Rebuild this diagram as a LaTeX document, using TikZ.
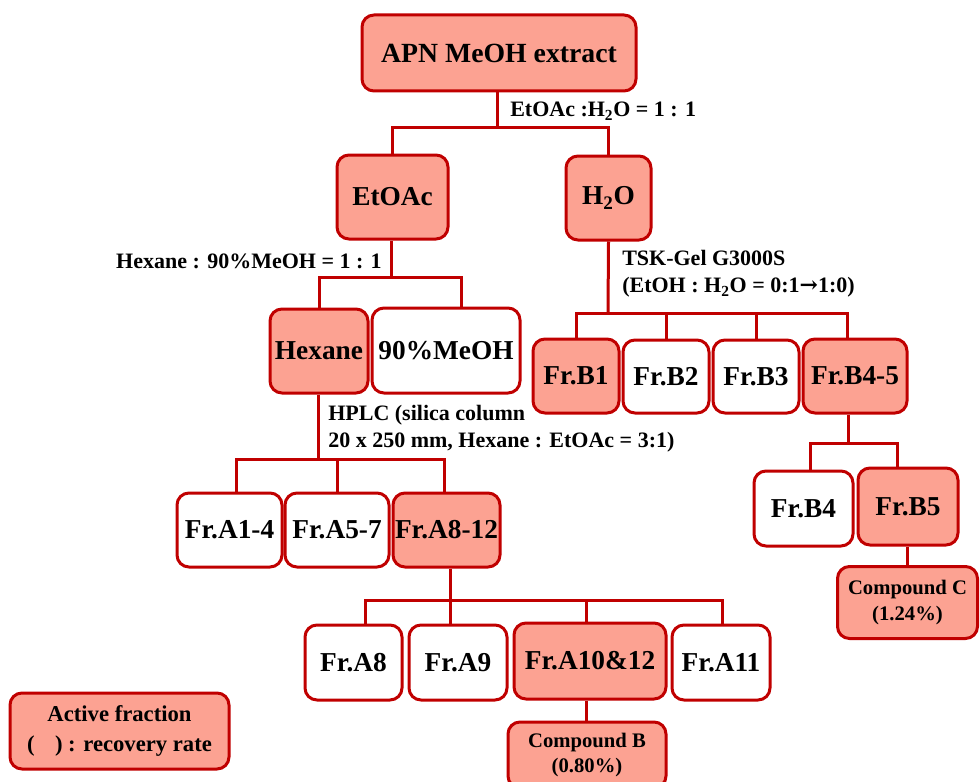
\documentclass[tikz,border=0pt]{standalone}
\usepackage{fontspec}
\setmainfont{Liberation Serif}
\newfontfamily\arrowfont{DejaVu Serif}
\definecolor{frame}{RGB}{192,0,0}
\definecolor{active}{RGB}{252,162,146}
\begin{document}
\begin{tikzpicture}[x=0.75pt,y=-0.75pt,
  box/.style={draw=frame, line width=2.25pt, rounded corners=9pt, fill=white,
    inner sep=0pt, align=center, font=\bfseries\fontsize{20.5}{24}\selectfont},
  hit/.style={box, fill=active},
  small/.style={font=\bfseries\fontsize{15.5}{19}\selectfont},
  link/.style={draw=frame, line width=2.25pt},
  note/.style={anchor=west, inner sep=0pt, align=left, font=\bfseries\fontsize{16.5}{20}\selectfont}]
\useasboundingbox (0,0) rectangle (980,781);

% ---- boxes ----
\node[hit, minimum width=0.75*274pt, minimum height=0.75*76pt, font=\bfseries\fontsize{20.8}{24}\selectfont] (apn) at (499,53) {APN MeOH extract};
\node[hit, minimum width=0.75*111pt, minimum height=0.75*84pt] (etoac) at (392.5,197) {EtOAc};
\node[hit, minimum width=0.75*85pt, minimum height=0.75*84pt] (h2o) at (608.5,198) {H\textsubscript{2}O};
\node[hit, minimum width=0.75*98pt, minimum height=0.75*84pt] (hex) at (319,351) {Hexane};
\node[box, minimum width=0.75*148pt, minimum height=0.75*85pt] (meoh) at (446,350.5) {90\%MeOH};

\node[hit, minimum width=0.75*86pt, minimum height=0.75*74pt] (b1) at (576,376) {Fr.B1};
\node[box, minimum width=0.75*86pt, minimum height=0.75*73pt] (b2) at (666,376.5) {Fr.B2};
\node[box, minimum width=0.75*86pt, minimum height=0.75*73pt] (b3) at (756,376.5) {Fr.B3};
\node[hit, minimum width=0.75*104pt, minimum height=0.75*74pt] (b45) at (855,376) {Fr.B4-5};
\node[box, minimum width=0.75*99pt, minimum height=0.75*75pt] (b4) at (803.5,508.5) {Fr.B4};
\node[hit, minimum width=0.75*100pt, minimum height=0.75*77pt] (b5) at (908,506.5) {Fr.B5};
\node[hit, small, minimum width=0.75*140pt, minimum height=0.75*72pt] (cc) at (907.5,602.5) {Compound C\\(1.24\%)};

\node[box, minimum width=0.75*105pt, minimum height=0.75*74pt] (a14) at (229.5,530) {Fr.A1-4};
\node[box, minimum width=0.75*104pt, minimum height=0.75*74pt] (a57) at (337,530) {Fr.A5-7};
\node[hit, minimum width=0.75*107pt, minimum height=0.75*74pt] (a812) at (446.5,530) {Fr.A8-12};

\node[box, minimum width=0.75*97pt, minimum height=0.75*75pt] (a8) at (353.5,662.5) {Fr.A8};
\node[box, minimum width=0.75*98pt, minimum height=0.75*75pt] (a9) at (458,662.5) {Fr.A9};
\node[hit, minimum width=0.75*152pt, minimum height=0.75*76pt] (a1012) at (590,661) {Fr.A10\&12};
\node[box, minimum width=0.75*98pt, minimum height=0.75*75pt] (a11) at (721,662.5) {Fr.A11};
\node[hit, small, minimum width=0.75*158pt, minimum height=0.75*66pt] (cb) at (587,755) {Compound B\\(0.80\%)};

\node[hit, minimum width=0.75*219pt, minimum height=0.75*76pt, font=\bfseries\fontsize{17}{22}\selectfont] (key) at (119.5,731) {Active fraction\\(\hspace{0.9em}) : recovery rate};

% ---- junction points on the branch bars ----
\coordinate (j1) at (497,128);
\coordinate (j2) at (391,277);
\coordinate (j2r) at (461,277);
\coordinate (j3) at (608,313);
\coordinate (j3b4) at (847,313);
\coordinate (j4) at (318,459);
\coordinate (j4a) at (236,459);
\coordinate (j4c) at (444,459);
\coordinate (j5) at (450,600);
\coordinate (j5a) at (365,600);
\coordinate (j5d) at (722,600);
\coordinate (j6) at (848,443);
\coordinate (j6a) at (810,443);
\coordinate (j6b) at (897,443);

% ---- connectors ----
\draw[link] (apn.south -| j1) -- (j1);
\draw[link] (etoac.north) |- (j1) -| (h2o.north);

\draw[link] (etoac.south -| j2) -- (j2);
\draw[link] (hex.north) |- (j2r) -- (j2r |- meoh.north);

\draw[link] (h2o.south) -- (j3);
\draw[link] (b1.north) |- (j3b4) -- (j3b4 |- b45.north);
\draw[link] (b2.north) -- (b2.north |- j3);
\draw[link] (b3.north) -- (b3.north |- j3);

\draw[link] (b45.south -| j6) -- (j6);
\draw[link] (j6a |- b4.north) |- (j6b) -- (j6b |- b5.north);
\draw[link] (b5.south -| cc.north) -- (cc.north);

\draw[link] (hex.south -| j4) -- (j4);
\draw[link] (j4a |- a14.north) |- (j4c) -- (j4c |- a812.north);
\draw[link] (a57.north) -- (a57.north |- j4);

\draw[link] (a812.south -| j5) -- (j5);
\draw[link] (j5a |- a8.north) |- (j5d) -- (j5d |- a11.north);
\draw[link] (a9.north -| j5) -- (j5);
\draw[link] (a1012.north -| 586,0) -- (586,600);
\draw[link] (a1012.south -| 586,0) -- (cb.north -| 586,0);

% ---- step conditions ----
\node[note] (n1) at (510,111) {EtOAc :H\textsubscript{2}O = 1 : 1};
\node[note, anchor=east] (n2) at (382,261) {Hexane : 90\%MeOH = 1 : 1};
\node[note] (n3) at (622,274) {TSK-Gel G3000S\\(EtOH : H\textsubscript{2}O = 0:1{\arrowfont\bfseries →}1:0)};
\node[note] (n4) at (328,429) {HPLC (silica column\\20 x 250 mm, Hexane : EtOAc = 3:1)};
\end{tikzpicture}
\end{document}
